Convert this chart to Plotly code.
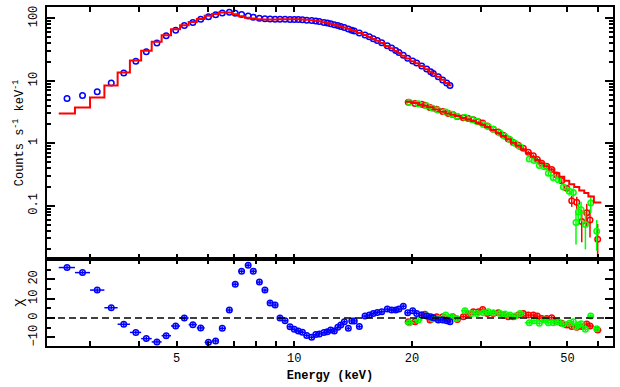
import numpy as np
import plotly.graph_objects as go

# ---------------- data ----------------
# low-energy instrument (blue)
blue_E = [2.62, 2.87, 3.13, 3.40, 3.66, 3.93, 4.18, 4.45, 4.70, 4.97,
          5.23, 5.50, 5.76, 6.03, 6.29, 6.54, 6.82, 7.06, 7.33, 7.62,
          7.85, 8.14, 8.41, 8.67, 8.93, 9.19, 9.47, 9.75, 10.00, 10.24,
          10.49, 10.76, 11.08, 11.35, 11.59, 11.91, 12.15, 12.39, 12.66, 12.92,
          13.15, 13.43, 13.75, 14.03, 14.24, 14.67, 15.17, 15.56, 15.93, 16.31,
          16.74, 17.30, 17.75, 18.18, 18.53, 19.01, 19.51, 20.09, 20.57, 21.19,
          21.82, 22.34, 22.68, 23.36, 23.98, 24.55, 25.03]
blue_counts = [5.2, 5.8, 6.7, 9.2, 13.3, 20.5, 29.2, 40.2, 52.6, 64.2,
               77, 86, 96.5, 106, 114, 122, 125, 121, 115, 109,
               104, 100, 98.5, 97.5, 97, 96.5, 96.2, 96, 95.8, 95.5,
               95, 93.5, 92, 90.3, 88.5, 86, 84, 81.5, 79, 76.5,
               74, 71, 67.5, 64.5, 62.5, 58, 54, 50.5, 47, 44,
               40.5, 36.5, 33.5, 30.5, 28.3, 25.6, 22.9, 20.8, 19.3, 17.3,
               15.4, 14.0, 13.1, 11.6, 10.3, 9.2, 8.4]
blue_model = [3.0, 3.75, 5.42, 8.43, 13.6, 21.2, 30.3, 42.2, 53.5, 66.7,
              77.5, 87, 97.5, 110, 117, 124, 124, 116, 108, 102,
              99, 97, 96, 96, 95.5, 96.5, 96.4, 96.6, 96.4, 96.2,
              95.8, 94.5, 93.1, 91.3, 89.4, 86.8, 84.7, 82.1, 79.6, 77,
              74.4, 71.2, 68.1, 64.7, 62.7, 58.4, 53.9, 50.3, 46.7, 43.6,
              40.1, 36, 33.1, 30.1, 27.9, 25.1, 22.7, 20.5, 19.1, 17.2,
              15.3, 13.95, 13.1, 11.65, 10.35, 9.25, 8.45]
blue_chi = [26.0, 23.4, 14.4, 5.3, -3.2, -7.4, -10.6, -12.3, -9.1, -4.1,
            0.0, -3.4, -5.1, -12.5, -11.8, -5.3, 4.1, 17.4, 24.1, 27.2,
            24.1, 18.5, 14.4, 7.8, 6.7, 0.0, -1.4, -4.5, -5.8, -6.7,
            -7.3, -9.0, -9.9, -8.5, -8.2, -7.5, -7.0, -6.2, -6.7, -4.8,
            -3.6, -1.9, -5.3, -1.5, -1.5, -4.4, 1.0, 1.5, 2.4, 2.9,
            3.2, 4.6, 4.1, 4.1, 4.6, 6.1, 2.7, 3.8, 2.4, 1.5,
            1.0, 0.7, 0.2, -1.0, -1.0, -1.4, -1.9]

# high-energy instrument, unit A (red)
red_E = [19.58, 20.37, 21.19, 21.60, 22.25, 23.14, 23.98, 24.79, 25.44, 26.14,
         27.08, 27.89, 28.72, 29.58, 30.35, 31.19, 32.31, 33.28, 34.27, 35.30,
         36.35, 37.45, 38.57, 39.72, 40.91, 41.88, 42.98, 44.26, 45.59, 46.96,
         48.36, 49.81, 51.29, 52.83, 54.41, 56.04, 57.13, 59.76]
red_counts = [4.55, 4.32, 4.2, 4.07, 3.72, 3.49, 3.23, 2.99, 2.89, 2.69,
              2.57, 2.49, 2.38, 2.21, 2.1, 1.88, 1.68, 1.51, 1.34, 1.17,
              1.03, 0.93, 0.83, 0.72, 0.63, 0.55, 0.48, 0.43, 0.38, 0.31,
              0.25, 0.19, 0.12, 0.114, 0.056, 0.077, 0.059, 0.029]
red_err = [0.09, 0.09, 0.085, 0.085, 0.08, 0.08, 0.075, 0.075, 0.07, 0.07,
           0.07, 0.065, 0.065, 0.06, 0.06, 0.055, 0.055, 0.05, 0.05, 0.045,
           0.045, 0.04, 0.04, 0.035, 0.035, 0.033, 0.03, 0.03, 0.028, 0.026,
           0.025, 0.024, 0.024, 0.025, 0.03, 0.03, 0.028, 0.022]
red_model = [4.63, 4.4, 4.14, 3.99, 3.76, 3.46, 3.2, 3.0, 2.86, 2.72,
             2.54, 2.41, 2.27, 2.11, 1.97, 1.82, 1.63, 1.46, 1.31, 1.16,
             1.02, 0.91, 0.8, 0.7, 0.61, 0.54, 0.48, 0.43, 0.38, 0.33,
             0.29, 0.25, 0.22, 0.2, 0.175, 0.16, 0.14, 0.113]
red_chi = [-1.9, -1.9, 1.5, 1.9, -1.0, 0.7, 0.7, -0.2, 0.7, -0.7,
           0.7, 2.1, 3.2, 3.2, 4.4, 2.4, 2.4, 2.7, 1.5, 0.7,
           0.7, 1.5, 2.4, 1.5, 1.5, 1.0, -0.2, -0.2, 0.2, -1.9,
           -2.7, -3.6, -4.4, -4.8, -4.4, -3.1, -4.1, -6.2]

# high-energy instrument, unit B (green)
green_E = [19.70, 20.77, 21.82, 22.61, 23.28, 24.41, 25.29, 26.05, 27.34, 28.45,
           29.31, 30.46, 31.37, 32.31, 33.62, 34.62, 35.65, 36.72, 37.82, 39.95,
           41.08, 42.39, 43.65, 44.69, 46.02, 47.40, 48.82, 50.57, 51.79, 52.60,
           53.33, 54.20, 55.60, 57.37, 59.43]
green_counts = [4.55, 4.27, 3.97, 3.62, 3.41, 3.15, 2.9, 2.71, 2.6, 2.4,
                2.24, 2.0, 1.86, 1.68, 1.46, 1.3, 1.15, 1.0, 0.88, 0.56,
                0.53, 0.44, 0.42, 0.33, 0.28, 0.26, 0.2, 0.17, 0.163, 0.054,
                0.079, 0.086, 0.050, 0.111, 0.039]
green_err = [0.09, 0.085, 0.08, 0.08, 0.075, 0.075, 0.07, 0.07, 0.065, 0.065,
             0.06, 0.06, 0.055, 0.055, 0.05, 0.05, 0.045, 0.045, 0.04, 0.035,
             0.035, 0.03, 0.03, 0.028, 0.027, 0.026, 0.025, 0.025, 0.028, 0.03,
             0.03, 0.03, 0.03, 0.035, 0.02]
green_chi = [-2.4, -1.0, 1.2, -0.5, -0.2, 1.5, 0.7, -0.2, 3.8, 2.4,
             2.4, 2.7, 3.2, 2.7, 2.4, 2.1, 1.5, 1.0, 2.4, -2.4,
             -1.4, -2.7, -1.0, -2.4, -2.4, -1.9, -3.1, -2.7, -1.9, -4.5,
             -3.6, -3.0, -5.8, 1.0, -5.5]

x_tickvals = [3, 4, 5, 6, 7, 8, 9, 10, 20, 30, 40, 50, 60]
x_ticktext = [" ", " ", "5", " ", " ", " ", " ", "10", "20", " ", " ", "50", " "]
y_tickvals = [0.1, 1, 10, 100]
y_ticktext = ["0.1", "1", "10", "100"]
chi_tickvals = [-10, 0, 10, 20]
chi_ticktext = ["\u221210", "0", "10", "20"]


# ---------------- helpers ----------------
def bin_edges(E):
    E = np.asarray(E, dtype=float)
    mid = (E[:-1] + E[1:]) / 2
    lo = np.concatenate([[E[0] - (mid[0] - E[0])], mid])
    hi = np.concatenate([mid, [E[-1] + (E[-1] - mid[-1])]])
    return lo, hi


def step_xy(E, model):
    lo, hi = bin_edges(E)
    return list(lo) + [hi[-1]], list(model) + [model[-1]]


BLUE, RED, GREEN, BLACK = "#0000ff", "#ff0000", "#00ff00", "#000000"
FONT = "Liberation Mono"
MS = 5.5

fig = go.Figure()


def data_trace(E, c, err, color):
    t = go.Scatter(x=E, y=c, mode="markers", xaxis="x", yaxis="y",
                   marker=dict(symbol="circle-open", size=MS, color=color,
                               line=dict(width=1.5, color=color)),
                   showlegend=False, hoverinfo="skip")
    if err is not None:
        t.error_y = dict(type="data", array=err, visible=True, color=color,
                         thickness=1.5, width=0)
    return t


fig.add_trace(data_trace(red_E, red_counts, red_err, RED))
fig.add_trace(data_trace(green_E, green_counts, green_err, GREEN))
fig.add_trace(data_trace(blue_E, blue_counts, None, BLUE))

# models (step histograms)
for E, m in [(blue_E, blue_model), (red_E, red_model)]:
    sx, sy = step_xy(E, m)
    fig.add_trace(go.Scatter(x=sx, y=sy, mode="lines", line_shape="hv",
                             line=dict(color=RED, width=2), xaxis="x", yaxis="y",
                             showlegend=False, hoverinfo="skip"))


def resid_trace(E, chi, color):
    lo, hi = bin_edges(E)
    E_arr = np.asarray(E)
    return go.Scatter(x=E, y=chi, mode="markers", xaxis="x2", yaxis="y2",
                      marker=dict(symbol="circle-open", size=MS, color=color,
                                  line=dict(width=1.5, color=color)),
                      error_x=dict(type="data", array=list(hi - E_arr),
                                   arrayminus=list(E_arr - lo), visible=True,
                                   color=color, thickness=1.5, width=0),
                      error_y=dict(type="constant", value=1, visible=True,
                                   color=color, thickness=1.5, width=0),
                      showlegend=False, hoverinfo="skip")


fig.add_trace(resid_trace(red_E, red_chi, RED))
fig.add_trace(resid_trace(green_E, green_chi, GREEN))
fig.add_trace(resid_trace(blue_E, blue_chi, BLUE))

fig.add_shape(type="line", xref="x2 domain", yref="y2", x0=0, x1=1, y0=0, y1=0,
              line=dict(color=BLACK, width=1.5, dash="7px,4px"))

xr = [0.367, 1.8157]
axis_common = dict(showline=True, linecolor=BLACK, linewidth=2, mirror="allticks",
                   ticks="inside", tickcolor=BLACK, tickwidth=1.5, showgrid=False,
                   zeroline=False, automargin=False,
                   tickfont=dict(family=FONT, size=12, color=BLACK))

fig.update_layout(
    width=620, height=387,
    margin=dict(l=47, r=7, t=7, b=41),
    paper_bgcolor="white", plot_bgcolor="white",
    xaxis=dict(axis_common, domain=[0, 1], anchor="y", type="log", range=xr,
               tickmode="array", tickvals=x_tickvals,
               ticklen=5, showticklabels=False),
    yaxis=dict(axis_common, domain=[0.2566, 1], anchor="x", type="log",
               range=[-1.853, 2.181], tickmode="array", tickvals=y_tickvals,
               ticktext=y_ticktext, ticklen=8, tickangle=-90, ticklabelstandoff=3,
               minor=dict(tickmode="array",
                          tickvals=[m * 10 ** k for k in range(-2, 3) for m in range(2, 10)],
                          ticks="inside", ticklen=4, tickcolor=BLACK, tickwidth=1.5,
                          showgrid=False),
               title=dict(text="Counts s<sup>-1</sup> keV<sup>-1</sup>",
                          font=dict(family=FONT, size=12, color=BLACK), standoff=0)),
    xaxis2=dict(axis_common, domain=[0, 1], anchor="y2", type="log", range=xr,
                tickmode="array", tickvals=x_tickvals, ticktext=x_ticktext, ticklen=5,
                ticklabelstandoff=0,
                title=dict(text="<b>Energy (keV)</b>",
                           font=dict(family=FONT, size=12, color=BLACK), standoff=5)),
    yaxis2=dict(axis_common, domain=[0, 0.2566], anchor="x2",
                range=[-14.4, 30.4], tickmode="array", tickvals=chi_tickvals,
                ticktext=chi_ticktext, ticklen=8, tickangle=-90, ticklabelstandoff=3,
                minor=dict(dtick=5, tick0=0, ticks="inside", ticklen=4,
                           tickcolor=BLACK, tickwidth=1.5, showgrid=False),
                title=dict(text="\u03c7", font=dict(family=FONT, size=14, color=BLACK),
                           standoff=0)),
)

fig.write_html("out.html", config={"displayModeBar": False},
               post_script="document.body.style.margin='0px';")
